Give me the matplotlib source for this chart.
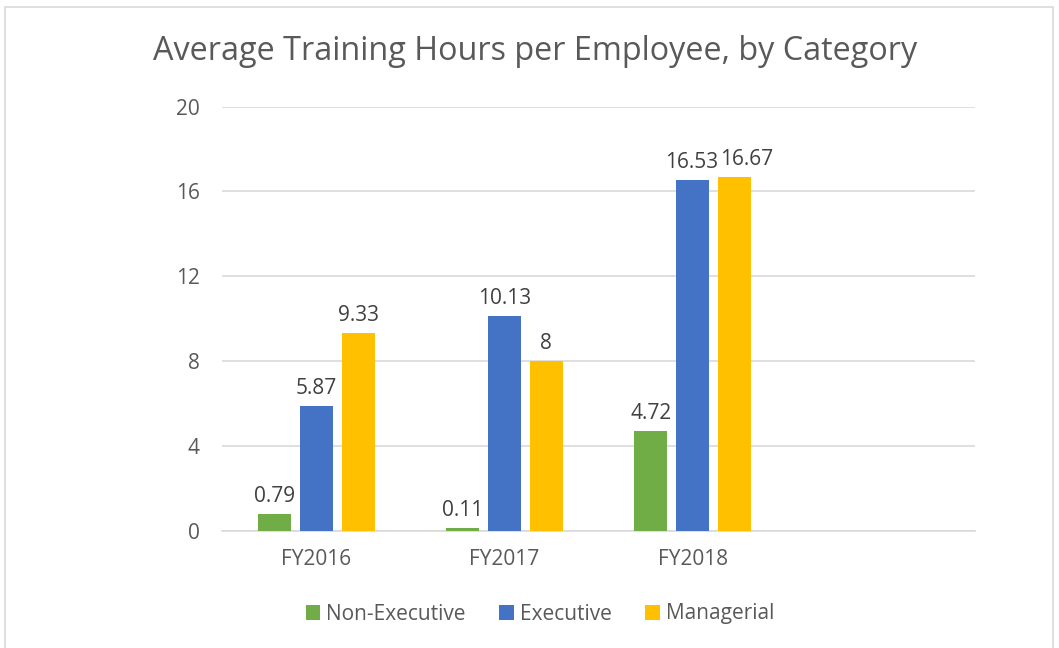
import numpy as np
import matplotlib
matplotlib.use('Agg')
import matplotlib.pyplot as plt
from matplotlib.patches import Rectangle

plt.rcParams.update({'font.family': ['Open Sans', 'DejaVu Sans']})

# data
categories = ['FY2016', 'FY2017', 'FY2018', '']
series_names = ['Non-Executive', 'Executive', 'Managerial']
non_exec = [0.79, 0.11, 4.72, np.nan]
executive = [5.87, 10.13, 16.53, np.nan]
managerial = [9.33, 8, 16.67, np.nan]
label_text = [['0.79', '0.11', '4.72'], ['5.87', '10.13', '16.53'], ['9.33', '8', '16.67']]
yticks = [0, 4, 8, 12, 16, 20]

colors = ['#70AD47', '#4472C4', '#FFC000']
text_c = '#595959'
# horizontal nudge (points) for labels that would collide
nudge = [[0, 0, 0], [0, 0, -1], [0, 0, 9]]

fig = plt.figure(figsize=(10.59, 6.48), dpi=100)
ax = fig.add_axes([222/1059, 1 - 530.7/648, (975-222)/1059, (530.7-106.7)/648])

# chart border
fig.patches.append(Rectangle((5/1059, -0.05), 1048/1059, 1 - 7/648 + 0.05,
                             transform=fig.transFigure, fill=False,
                             edgecolor='#D9D9D9', linewidth=1.2))

x = np.arange(len(categories))
width = 0.175
step = 0.223
bars = []
for i, (vals, c, name) in enumerate(zip([non_exec, executive, managerial], colors, series_names)):
    b = ax.bar(x + (i - 1) * step, vals, width, color=c, label=name, zorder=3)
    bars.append(b)
    for j, t in enumerate(label_text[i]):
        ax.annotate(t, (x[j] + (i - 1) * step, vals[j]), xytext=(nudge[i][j], 5),
                    textcoords='offset points', ha='center', va='bottom',
                    fontsize=15, color='#404040')

ax.set_xlim(-0.5, 3.5)
ax.set_ylim(0, 20)
ax.set_yticks(yticks)
ax.set_xticks(x)
ax.set_xticklabels(categories)
ax.yaxis.grid(True, color='#D9D9D9', linewidth=1.2, zorder=0)
ax.set_axisbelow(True)
for s in ['top', 'right', 'left']:
    ax.spines[s].set_visible(False)
ax.spines['bottom'].set_color('#D9D9D9')
ax.spines['bottom'].set_linewidth(1.2)
ax.tick_params(axis='both', length=0, labelsize=15, labelcolor=text_c)
ax.tick_params(axis='y', pad=16)
ax.tick_params(axis='x', pad=13)

fig.text(535/1059, 1 - 52/648, 'Average Training Hours per Employee, by Category',
         ha='center', va='center', fontsize=23.3, color=text_c)

fig.legend(handles=bars, labels=series_names, loc='center', bbox_to_anchor=(540/1059, 1 - 614/648),
           ncol=3, frameon=False, fontsize=15, handlelength=0.7, handleheight=0.7,
           handletextpad=0.3, columnspacing=1.6, labelcolor=text_c)

plt.savefig('out.png', dpi=100)
